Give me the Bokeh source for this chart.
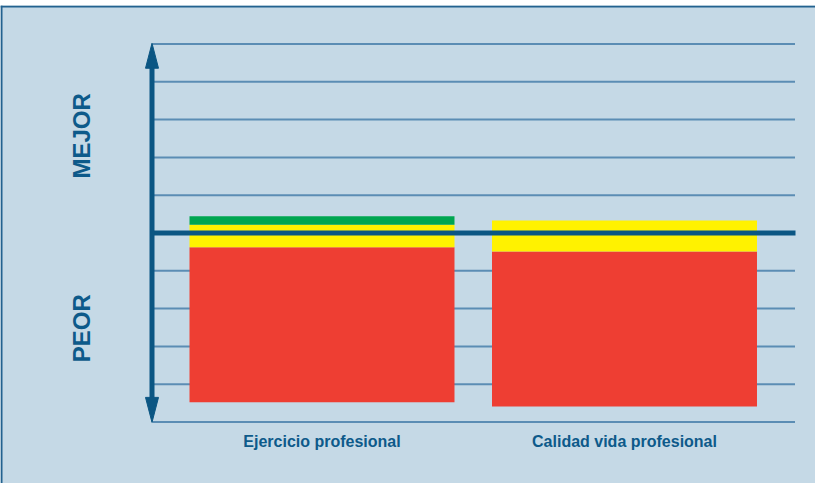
import math
from bokeh.plotting import figure
from bokeh.models import Range1d, Span
from bokeh.core.properties import value
from bokeh.embed import file_html
from bokeh.resources import INLINE

# ---- data ----
categories = ["Ejercicio profesional", "Calidad vida profesional"]
base = [-4.48, -4.59]      # bottom of bar (PEOR side)
red = [4.10, 4.10]
yellow = [0.60, 0.82]
green = [0.22, 0.00]
level_ticks = [-5, -4, -3, -2, -1, 0, 1, 2, 3, 4, 5]
side_labels = ["MEJOR", "PEOR"]
side_label_levels = [2.57, -2.52]

# ---- geometry / styles ----
W, H = 815, 483
TOP_PAD = 5
XS = 302.5   # px per category unit
YS = 37.8    # px per level unit
x_start = -321.5 / XS
x_end = x_start + W / XS
y_end = 227.5 / YS
y_start = y_end - (H - TOP_PAD) / YS

BG = "#c5d9e6"
DARK = "#0b5683"
GRID = "#5b8db4"
TEXT = "#0d5a8a"
RED = "#ee3e33"
YELLOW = "#fff200"
GREEN = "#00a651"
BORDER = "#23628f"

def xd(px):  # figure px -> data x
    return x_start + px / XS

p = figure(width=W, height=H, output_backend="svg", toolbar_location=None,
           x_range=Range1d(x_start, x_end), y_range=Range1d(y_start, y_end),
           x_axis_type=None, y_axis_type=None,
           min_border_left=0, min_border_right=0, min_border_bottom=0,
           min_border_top=TOP_PAD)
p.background_fill_color = BG
p.border_fill_color = "white"
p.outline_line_color = None
p.xgrid.visible = False
p.ygrid.visible = False

# grid lines
gx0, gx1 = xd(152), xd(794.5)
minor = [t for t in level_ticks if t != 0]
p.segment(x0=[gx0] * len(minor), x1=[gx1] * len(minor), y0=minor, y1=minor,
          line_color=GRID, line_width=2)

# stacked bars
xs = list(range(len(categories)))
red_top = [b + r for b, r in zip(base, red)]
yel_top = [t + y for t, y in zip(red_top, yellow)]
grn_top = [t + g for t, g in zip(yel_top, green)]
bw = 0.876
p.vbar(x=xs, bottom=base, top=red_top, width=bw, fill_color=RED, line_color=None)
p.vbar(x=xs, bottom=red_top, top=yel_top, width=bw, fill_color=YELLOW, line_color=None)
p.vbar(x=xs, bottom=yel_top, top=grn_top, width=bw, fill_color=GREEN, line_color=None)

# middle reference line
p.segment(x0=[gx0], x1=[xd(795)], y0=[0], y1=[0], line_color=DARK, line_width=5)

# vertical double arrow
ax = xd(151.5)
top_tip, bot_tip = level_ticks[-1] + 0.02, level_ticks[0] - 0.01
head_h = 25 / YS
head_w = 6.5 / XS
p.segment(x0=[ax], x1=[ax], y0=[bot_tip + head_h * 0.8], y1=[top_tip - head_h * 0.8],
          line_color=DARK, line_width=5)
p.patches(xs=[[ax, ax - head_w, ax + head_w], [ax, ax - head_w, ax + head_w]],
          ys=[[top_tip, top_tip - head_h, top_tip - head_h],
              [bot_tip, bot_tip + head_h, bot_tip + head_h]],
          fill_color=DARK, line_color=DARK, line_width=1)

# category labels
p.text(x=xs, y=[(227.5 - (449 - 13)) / YS] * len(xs), text=categories,
       text_align="center", text_baseline="middle",
       text_font=value("Liberation Sans"), text_font_style="bold",
       text_font_size="16px", text_color=TEXT)

# side labels
p.text(x=[xd(81)] * len(side_labels), y=side_label_levels, text=side_labels,
       angle=math.pi / 2, text_align="center", text_baseline="middle",
       text_font=value("Liberation Sans"), text_font_style="bold",
       text_font_size="24px", text_color=TEXT)

# panel border (top and left)
p.add_layout(Span(location=y_end - 1 / YS, dimension="width", line_color=BORDER, line_width=2))
p.add_layout(Span(location=x_start + 1 / XS, dimension="height", line_color=BORDER, line_width=2))

open("out.html", "w").write(file_html(p, INLINE))
